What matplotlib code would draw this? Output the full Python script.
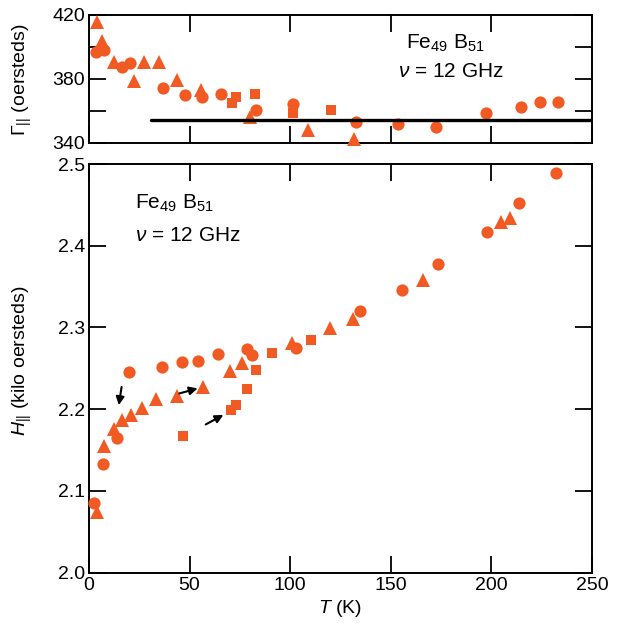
import matplotlib
matplotlib.use("Agg")
import matplotlib.pyplot as plt

plt.rcParams['font.family'] = ['Liberation Sans', 'DejaVu Sans']
plt.rcParams['mathtext.fontset'] = 'custom'
plt.rcParams['mathtext.rm'] = 'Liberation Sans'
plt.rcParams['mathtext.it'] = 'Liberation Sans:italic'
plt.rcParams['mathtext.bf'] = 'Liberation Sans:bold'

ORANGE = '#F25A24'

# ---- Top panel: linewidth Gamma (oersteds) ----
top_tri_T = [3.9, 6.7, 12.5, 22.6, 27.5, 34.7, 43.9, 55.9, 80.0, 108.8, 131.8]
top_tri_G = [415.3, 403.9, 390.9, 378.6, 390.5, 390.9, 379.6, 373.0, 356.5, 347.8, 342.5]
top_cir_T = [3.3, 7.3, 16.5, 20.6, 36.7, 47.5, 56.3, 65.7, 83.1, 101.4, 132.8, 153.4, 172.6, 197.5, 214.7, 224.0, 233.2]
top_cir_G = [396.7, 398.1, 387.4, 390.1, 374.6, 369.9, 368.9, 370.3, 360.6, 364.3, 352.8, 352.0, 349.9, 358.6, 362.3, 365.8, 365.8]
top_sq_T = [71.0, 73.0, 82.4, 101.4, 120.4]
top_sq_G = [365.2, 368.5, 370.3, 359.0, 360.6]
top_line_T = [30.8, 250.0]
top_line_G = [354.4, 354.4]

# ---- Bottom panel: resonance field H (kilo oersteds) ----
bot_cir_T = [2.5, 7.1, 14.1, 20.0, 36.1, 46.4, 54.3, 63.9, 78.4, 80.8, 102.9, 134.7, 155.6, 173.6, 197.7, 213.9, 232.1]
bot_cir_H = [2.0847, 2.1328, 2.1643, 2.2458, 2.2519, 2.2580, 2.2589, 2.2674, 2.2736, 2.2662, 2.2744, 2.3205, 2.3458, 2.3776, 2.4164, 2.4519, 2.4886]
bot_tri_T = [3.8, 7.6, 12.6, 16.2, 20.7, 26.5, 33.1, 43.9, 56.8, 70.1, 76.2, 101.0, 120.0, 131.1, 165.8, 204.8, 209.2]
bot_tri_H = [2.0740, 2.1548, 2.1760, 2.1867, 2.1928, 2.2010, 2.2120, 2.2160, 2.2267, 2.2466, 2.2561, 2.2805, 2.2990, 2.3100, 2.3580, 2.4294, 2.4343]
bot_sq_T = [46.6, 70.4, 73.1, 78.7, 83.0, 90.8, 110.2]
bot_sq_H = [2.1675, 2.1989, 2.2050, 2.2250, 2.2475, 2.2690, 2.2850]

# arrows: (tail T, tail H, head T, head H)
arrows = [
    (16.2, 2.2272, 14.8, 2.2050),
    (44.9, 2.2193, 54.0, 2.2255),
    (58.0, 2.1814, 66.8, 2.1930),
]

fig = plt.figure(figsize=(6.18, 6.26), dpi=100)
ax1 = fig.add_axes([0.144, 0.7716, 0.814, 0.2045])
ax2 = fig.add_axes([0.144, 0.0851, 0.814, 0.6529])

ms_c, ms_t, ms_s = 8.8, 9.5, 7.6
for ax, (ct, cv, tt, tv, st, sv) in [
    (ax1, (top_cir_T, top_cir_G, top_tri_T, top_tri_G, top_sq_T, top_sq_G)),
    (ax2, (bot_cir_T, bot_cir_H, bot_tri_T, bot_tri_H, bot_sq_T, bot_sq_H)),
]:
    ax.plot(tt, tv, '^', color=ORANGE, ms=ms_t, mew=0, clip_on=False, zorder=3)
    ax.plot(ct, cv, 'o', color=ORANGE, ms=ms_c, mew=0, clip_on=False, zorder=3)
    ax.plot(st, sv, 's', color=ORANGE, ms=ms_s, mew=0, clip_on=False, zorder=3)

ax1.plot(top_line_T, top_line_G, color='black', lw=2.4, solid_capstyle='round', zorder=4)

for (t0, h0, t1, h1) in arrows:
    ax2.annotate('', xy=(t1, h1), xytext=(t0, h0),
                 arrowprops=dict(arrowstyle='-|>', color='black', lw=1.5,
                                 mutation_scale=12, shrinkA=0, shrinkB=0))

# axes formatting
for ax in (ax1, ax2):
    ax.set_xlim(0, 250)
    ax.set_xticks([0, 50, 100, 150, 200, 250])
    for s in ax.spines.values():
        s.set_linewidth(1.4)
    ax.tick_params(direction='in', length=12.5, width=1.3, top=True, right=True,
                   labelsize=14, pad=3)

ax1.set_ylim(340, 420)
ax1.set_yticks([340, 360, 380, 400, 420])
ax1.set_yticklabels(['340', '', '380', '', '420'])
ax1.tick_params(labelbottom=False)

ax2.set_ylim(2.0, 2.5)
ax2.set_yticks([2.0, 2.1, 2.2, 2.3, 2.4, 2.5])
ax2.set_yticklabels(['2.0', '2.1', '2.2', '2.3', '2.4', '2.5'])
ax2.set_xticklabels(['0', '50', '100', '150', '200', '250'])
ax2.set_xlabel(r'$T$ (K)', fontsize=14, labelpad=3)

fig.text(0.036, 0.873, r'$\Gamma_{||}$ (oersteds)', rotation=90, ha='center', va='center', fontsize=14)
fig.text(0.036, 0.423, r'$H_{||}$ (kilo oersteds)', rotation=90, ha='center', va='center', fontsize=14)

ax1.text(157.6, 0.78, r'Fe$_{49}$ B$_{51}$', transform=ax1.get_xaxis_transform(),
         ha='left', va='center', fontsize=15)
ax1.text(153.6, 0.555, r'$\nu$ = 12 GHz', transform=ax1.get_xaxis_transform(),
         ha='left', va='center', fontsize=15)
ax2.text(22.9, 2.452, r'Fe$_{49}$ B$_{51}$', ha='left', va='center', fontsize=15)
ax2.text(22.9, 2.413, r'$\nu$ = 12 GHz', ha='left', va='center', fontsize=15)

fig.savefig('out.png', dpi=100)
